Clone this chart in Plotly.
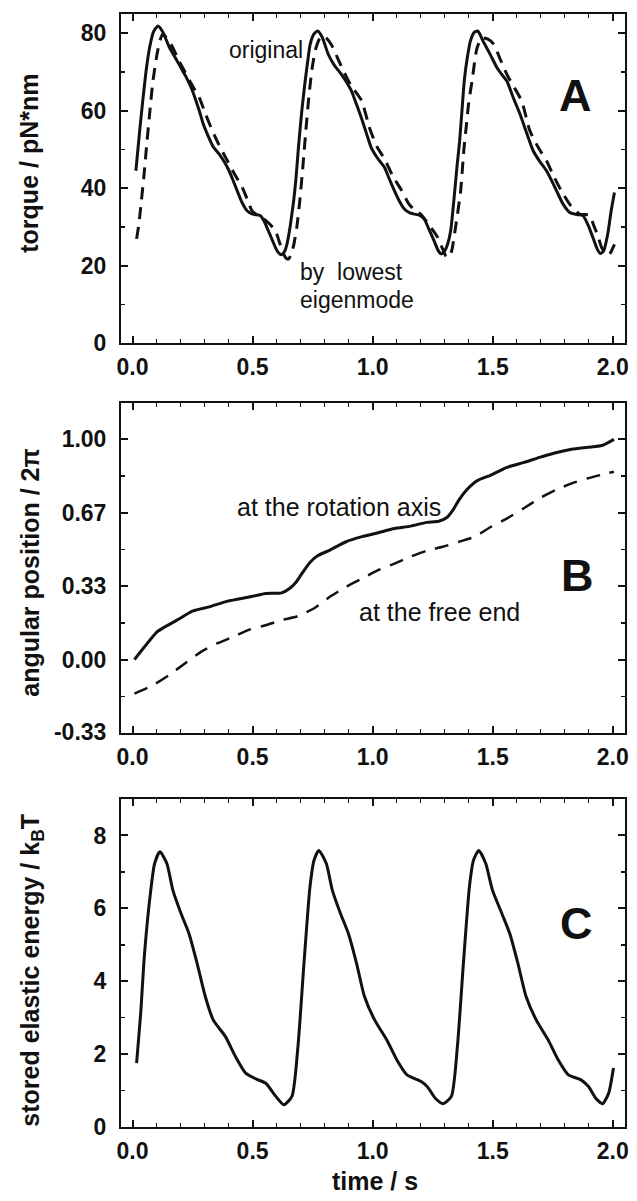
import plotly.graph_objects as go

# ---------------- Panel A: torque ----------------
a_orig_t = [0.014, 0.030, 0.044, 0.058, 0.071, 0.088, 0.106, 0.125, 0.154, 0.180, 0.209, 0.225, 0.244, 0.262,
            0.278, 0.295, 0.312, 0.335, 0.361, 0.382, 0.402, 0.420, 0.436, 0.456, 0.478, 0.500, 0.520, 0.533,
            0.548, 0.560, 0.578, 0.595, 0.608, 0.620, 0.632, 0.643, 0.655, 0.663, 0.671, 0.680, 0.691, 0.705,
            0.719, 0.730, 0.740, 0.755, 0.771, 0.790, 0.815, 0.840, 0.870, 0.890, 0.912, 0.932, 0.953, 0.975,
            0.994, 1.020, 1.050, 1.070, 1.091, 1.110, 1.132, 1.155, 1.174, 1.195, 1.215, 1.235, 1.256, 1.272,
            1.286, 1.300, 1.312, 1.325, 1.340, 1.352, 1.362, 1.372, 1.382, 1.395, 1.407, 1.422, 1.438, 1.460,
            1.490, 1.518, 1.540, 1.559, 1.585, 1.614, 1.640, 1.669, 1.695, 1.724, 1.745, 1.766, 1.792, 1.821,
            1.850, 1.876, 1.897, 1.917, 1.935, 1.948, 1.962, 1.979, 1.993, 2.007]
a_orig_v = [44.5, 55.0, 63.4, 71.0, 76.3, 80.5, 81.9, 80.5, 76.3, 73.5, 70.3, 68.5, 66.0, 63.0,
            60.0, 56.5, 53.9, 50.8, 48.8, 46.8, 44.5, 41.8, 39.3, 36.3, 34.1, 33.3, 33.1, 32.9,
            31.5, 29.8, 27.2, 24.7, 23.3, 22.8, 23.5, 25.5, 29.5, 33.0, 36.7, 42.0, 50.5, 60.0,
            67.7, 73.0, 77.2, 79.8, 80.6, 79.0, 74.6, 71.8, 69.4, 67.5, 65.1, 61.8, 58.2, 54.0,
            50.5, 47.8, 45.3, 42.3, 39.3, 36.8, 34.6, 33.6, 33.3, 33.0, 32.0, 29.3, 26.4, 24.0,
            23.0, 23.8, 25.5, 29.0, 38.0, 46.0, 52.0, 60.0, 68.0, 74.0, 78.0, 80.2, 80.6, 78.0,
            74.5, 71.1, 69.2, 67.7, 63.5, 59.1, 54.5, 49.6, 47.0, 44.5, 42.0, 39.3, 36.0, 33.7,
            33.2, 32.9, 30.5, 27.3, 24.3, 23.1, 23.8, 28.1, 34.0, 38.9]

a_eig_t = [0.017, 0.027, 0.037, 0.048, 0.058, 0.071, 0.085, 0.102, 0.115, 0.126, 0.140, 0.168, 0.190, 0.209,
           0.240, 0.278, 0.305, 0.333, 0.360, 0.388, 0.420, 0.457, 0.480, 0.498, 0.520, 0.540, 0.570, 0.595,
           0.612, 0.629, 0.640, 0.650, 0.660, 0.672, 0.684, 0.697, 0.710, 0.722, 0.735, 0.748, 0.762, 0.781,
           0.800, 0.829, 0.855, 0.877, 0.910, 0.953, 0.990, 1.020, 1.050, 1.085, 1.118, 1.150, 1.180, 1.200,
           1.235, 1.270, 1.290, 1.305, 1.318, 1.330, 1.345, 1.366, 1.380, 1.390, 1.400, 1.414, 1.435, 1.456,
           1.480, 1.504, 1.530, 1.559, 1.590, 1.621, 1.655, 1.690, 1.724, 1.755, 1.786, 1.825, 1.862, 1.903,
           1.920, 1.938, 1.955, 1.970, 1.985, 2.000, 2.007]
a_eig_v = [26.9, 31.0, 36.8, 43.5, 50.5, 59.1, 67.7, 74.6, 78.3, 79.8, 79.0, 76.3, 73.3, 71.1,
           67.5, 63.4, 59.0, 54.8, 51.2, 47.9, 44.2, 40.2, 36.8, 34.1, 33.0, 32.4, 30.8, 29.0,
           26.0, 23.0, 21.9, 21.7, 22.8, 25.5, 29.8, 37.0, 46.0, 55.0, 64.0, 71.0, 75.8, 78.8,
           79.2, 77.0, 73.5, 70.5, 66.5, 62.7, 55.0, 50.5, 47.5, 43.0, 39.7, 36.0, 34.0, 33.3,
           30.5, 27.4, 24.5, 22.5, 22.1, 24.0, 29.8, 39.0, 50.0, 56.0, 62.0, 67.7, 76.3, 78.8,
           78.5, 77.2, 73.5, 69.4, 66.0, 62.5, 54.8, 50.5, 47.1, 43.0, 39.3, 35.5, 33.3, 33.0,
           30.5, 27.7, 24.5, 23.5, 22.8, 24.5, 25.5]

# ---------------- Panel B: angular position ----------------
b_axis_t = [0.008, 0.050, 0.101, 0.134, 0.185, 0.252, 0.319, 0.386, 0.453, 0.520, 0.554, 0.621, 0.654,
            0.680, 0.705, 0.738, 0.772, 0.822, 0.889, 0.956, 1.023, 1.091, 1.158, 1.225, 1.275, 1.309,
            1.335, 1.359, 1.393, 1.435, 1.493, 1.560, 1.628, 1.695, 1.762, 1.829, 1.896, 1.955, 2.005]
b_axis_v = [0.000, 0.058, 0.125, 0.148, 0.179, 0.221, 0.239, 0.262, 0.277, 0.292, 0.300, 0.303, 0.323,
            0.350, 0.390, 0.440, 0.472, 0.497, 0.535, 0.558, 0.576, 0.595, 0.606, 0.623, 0.628, 0.645,
            0.680, 0.724, 0.772, 0.812, 0.838, 0.873, 0.894, 0.918, 0.939, 0.955, 0.964, 0.972, 1.000]

b_free_t = [0.008, 0.084, 0.151, 0.218, 0.285, 0.352, 0.419, 0.487, 0.554, 0.621, 0.688, 0.755, 0.822,
            0.889, 0.956, 1.023, 1.091, 1.158, 1.225, 1.292, 1.359, 1.426, 1.493, 1.560, 1.628, 1.695,
            1.762, 1.829, 1.896, 1.963, 2.005]
b_free_v = [-0.155, -0.117, -0.071, -0.018, 0.035, 0.073, 0.103, 0.136, 0.156, 0.179, 0.197, 0.232, 0.285,
            0.330, 0.368, 0.406, 0.436, 0.467, 0.494, 0.512, 0.535, 0.558, 0.603, 0.641, 0.686, 0.732,
            0.770, 0.800, 0.823, 0.842, 0.853]

# ---------------- Panel C: stored elastic energy ----------------
c_t = [0.017, 0.034, 0.050, 0.076, 0.092, 0.114, 0.143, 0.168, 0.202, 0.235, 0.269, 0.303, 0.336, 0.387,
       0.429, 0.471, 0.521, 0.555, 0.597, 0.630, 0.664, 0.689, 0.714, 0.739, 0.756, 0.776, 0.807, 0.832,
       0.866, 0.899, 0.933, 0.966, 1.008, 1.059, 1.101, 1.143, 1.202, 1.227, 1.261, 1.294, 1.328, 1.353,
       1.378, 1.403, 1.420, 1.442, 1.471, 1.499, 1.538, 1.571, 1.605, 1.639, 1.681, 1.731, 1.773, 1.815,
       1.866, 1.899, 1.929, 1.958, 1.983, 2.003]
c_v = [1.75, 3.12, 4.76, 6.50, 7.23, 7.55, 7.23, 6.50, 5.86, 5.31, 4.49, 3.58, 2.94, 2.48,
       1.93, 1.48, 1.30, 1.20, 0.84, 0.61, 0.84, 2.21, 4.49, 6.59, 7.32, 7.59, 7.23, 6.50,
       5.86, 5.31, 4.49, 3.58, 2.94, 2.39, 1.84, 1.43, 1.25, 1.11, 0.79, 0.64, 0.84, 2.21,
       4.49, 6.59, 7.32, 7.59, 7.23, 6.50, 5.86, 5.31, 4.49, 3.58, 2.94, 2.39, 1.84, 1.43,
       1.30, 1.11, 0.79, 0.64, 0.93, 1.62]

x_ticks = [0.0, 0.5, 1.0, 1.5, 2.0]
x_ticktext = ["0.0", "0.5", "1.0", "1.5", "2.0"]
a_ticks = [0, 20, 40, 60, 80]
b_ticks = [-0.33, 0.0, 1/3, 2/3, 1.0]
b_ticktext = ["-0.33", "0.00", "0.33", "0.67", "1.00"]
c_ticks = [0, 2, 4, 6, 8]

# ---------------- figure ----------------
W, H = 637, 1201
L, R, T, B = 121, 8, 14, 74
PW, PH = W - L - R, H - T - B
FRAME_BOTTOM = H - B


def px(xp):
    return (xp - L) / PW


def py(yp):
    return (FRAME_BOTTOM - yp) / PH


FONT = "Liberation Sans, Arial, Helvetica, sans-serif"
BLACK = "#111111"

fig = go.Figure()
fig.add_trace(go.Scatter(x=a_orig_t, y=a_orig_v, mode="lines", line=dict(color=BLACK, width=3, shape="spline", smoothing=0.6),
                         xaxis="x3", yaxis="y3", showlegend=False))
fig.add_trace(go.Scatter(x=a_eig_t, y=a_eig_v, mode="lines", line=dict(color=BLACK, width=3, dash="12px,8px", shape="spline", smoothing=0.6),
                         xaxis="x3", yaxis="y3", showlegend=False))
fig.add_trace(go.Scatter(x=b_axis_t, y=b_axis_v, mode="lines", line=dict(color=BLACK, width=3, shape="spline", smoothing=0.6),
                         xaxis="x2", yaxis="y2", showlegend=False))
fig.add_trace(go.Scatter(x=b_free_t, y=b_free_v, mode="lines", line=dict(color=BLACK, width=2.5, dash="14px,10px", shape="spline", smoothing=0.6),
                         xaxis="x2", yaxis="y2", showlegend=False))
fig.add_trace(go.Scatter(x=c_t, y=c_v, mode="lines", line=dict(color=BLACK, width=3, shape="spline", smoothing=0.6),
                         xaxis="x", yaxis="y", showlegend=False))

tickfont = dict(family=FONT, size=23, color=BLACK, weight="bold")


def xaxis_cfg(anchor):
    return dict(range=[-0.048, 2.051], anchor=anchor, tickmode="array", tickvals=x_ticks, ticktext=x_ticktext,
                ticks="inside", ticklen=7, tickwidth=2, tickcolor=BLACK, showline=True, linecolor=BLACK,
                linewidth=2, mirror="allticks", showgrid=False, zeroline=False, tickfont=tickfont,
                ticklabelstandoff=2,
                minor=dict(dtick=0.1, tick0=0, ticks="inside", ticklen=4, tickwidth=1.5, tickcolor=BLACK, showgrid=False))


def yaxis_cfg(anchor, domain, rng, tickvals, ticktext, minor_vals):
    return dict(domain=domain, range=rng, anchor=anchor, tickmode="array", tickvals=tickvals, ticktext=ticktext,
                ticks="inside", ticklen=7, tickwidth=2, tickcolor=BLACK, showline=True, linecolor=BLACK,
                linewidth=2, mirror="allticks", showgrid=False, zeroline=False, tickfont=tickfont,
                ticklabelstandoff=8,
                minor=dict(tickmode="array", tickvals=minor_vals, ticks="inside", ticklen=4, tickwidth=1.5,
                           tickcolor=BLACK, showgrid=False))


dom_c = [0.0, py(799)]
dom_b = [py(733), py(403)]
dom_a = [py(343), 1.0]

fig.update_layout(
    width=W, height=H, margin=dict(l=L, r=R, t=T, b=B),
    paper_bgcolor="white", plot_bgcolor="white", showlegend=False,
    xaxis=xaxis_cfg("y"),
    xaxis2=xaxis_cfg("y2"),
    xaxis3=xaxis_cfg("y3"),
    yaxis=yaxis_cfg("x", dom_c, [0, 9], c_ticks, [str(v) for v in c_ticks], [1, 3, 5, 7, 9]),
    yaxis2=yaxis_cfg("x2", dom_b, [-0.3335, 1.165], b_ticks, b_ticktext, [-1/6, 1/6, 1/2, 5/6]),
    yaxis3=yaxis_cfg("x3", dom_a, [0, 85], a_ticks, [str(v) for v in a_ticks], [10, 30, 50, 70]),
)

annots = []


def add_text(text, x, y, size, bold=False, xanchor="center", angle=0):
    annots.append(dict(text=text, x=px(x), y=py(y), xref="paper", yref="paper", showarrow=False,
                       xanchor=xanchor, yanchor="middle", textangle=angle,
                       font=dict(family=FONT, size=size, color=BLACK, weight="bold" if bold else "normal")))


# axis titles
add_text("torque / pN*nm", 28, 163, 25, bold=True, angle=-90)
add_text("angular position / 2π", 29, 573, 25, bold=True, angle=-90)
add_text("stored elastic energy / k<sub>B</sub>T", 31, 970, 25, bold=True, angle=-90)
add_text("time / s", 377, 1181, 25, bold=True)

# panel A labels
add_text("original", 267, 50, 23)
add_text("by  lowest", 299, 272, 23, xanchor="left")
add_text("eigenmode", 299, 300, 23, xanchor="left")
add_text("A", 579, 96, 45, bold=True)

# panel B labels
add_text("at the rotation axis", 341, 507, 25)
add_text("at the free end", 442, 612, 25)
add_text("B", 581, 575, 45, bold=True)

# panel C label
add_text("C", 580, 923, 45, bold=True)

fig.update_layout(annotations=annots)

fig.write_html(
    "out.html",
    config={"displayModeBar": False, "staticPlot": True},
    post_script="document.body.style.margin='0';document.body.style.padding='0';"
                "document.body.style.overflow='hidden';",
)
